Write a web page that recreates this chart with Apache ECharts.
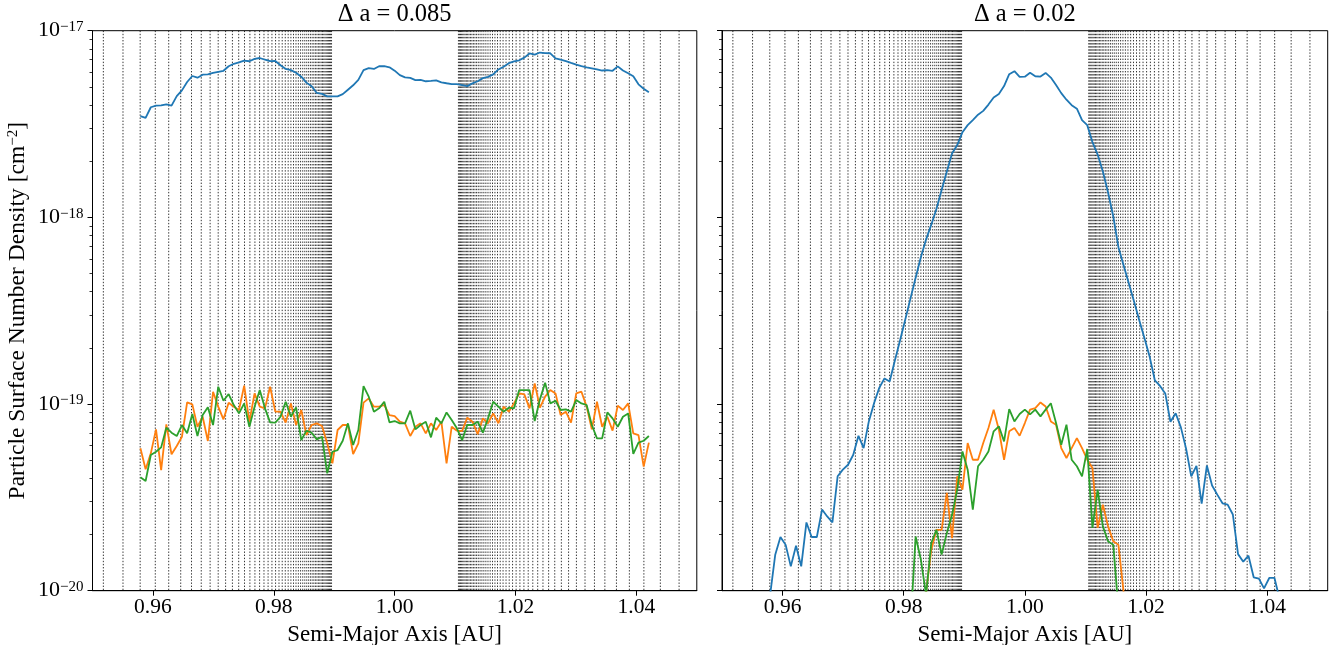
<!DOCTYPE html>
<html>
<head>
<meta charset="utf-8">
<script src="https://cdn.jsdelivr.net/npm/echarts@6/dist/echarts.min.js"></script>
<style>html,body{margin:0;padding:0;background:#fff}#chart{width:1336px;height:645px}</style>
</head>
<body>
<div id="chart"></div>
<script>
// ---- data ----
const semiMajorAxis = [
0.95793,0.95879,0.95965,0.96051,0.96136,0.96222,0.96308,0.96394,0.96480,0.96566,
0.96652,0.96737,0.96823,0.96909,0.96995,0.97081,0.97167,0.97253,0.97338,0.97424,
0.97510,0.97596,0.97682,0.97768,0.97854,0.97939,0.98025,0.98111,0.98197,0.98283,
0.98369,0.98455,0.98540,0.98626,0.98712,0.98798,0.98884,0.98970,0.99056,0.99141,
0.99227,0.99313,0.99399,0.99485,0.99571,0.99657,0.99742,0.99828,0.99914,1.00000,
1.00086,1.00172,1.00258,1.00343,1.00429,1.00515,1.00601,1.00687,1.00773,1.00859,
1.00944,1.01030,1.01116,1.01202,1.01288,1.01374,1.01460,1.01545,1.01631,1.01717,
1.01803,1.01889,1.01975,1.02061,1.02146,1.02232,1.02318,1.02404,1.02490,1.02576,
1.02662,1.02747,1.02833,1.02919,1.03005,1.03091,1.03177,1.03263,1.03348,1.03434,
1.03520,1.03606,1.03692,1.03778,1.03864,1.03949,1.04035,1.04121,1.04207];

// Panel 1: Δa = 0.085
const blue085 = [
3.49e-18,3.41e-18,3.89e-18,3.97e-18,3.98e-18,4.03e-18,3.97e-18,4.46e-18,4.79e-18,5.31e-18,
5.72e-18,5.60e-18,5.81e-18,5.83e-18,5.94e-18,6.02e-18,6.10e-18,6.45e-18,6.65e-18,6.76e-18,
6.91e-18,6.86e-18,7.06e-18,7.14e-18,6.99e-18,6.87e-18,6.88e-18,6.53e-18,6.24e-18,6.15e-18,
5.95e-18,5.67e-18,5.27e-18,5.04e-18,4.64e-18,4.59e-18,4.45e-18,4.45e-18,4.45e-18,4.57e-18,
4.83e-18,5.10e-18,5.45e-18,6.15e-18,6.30e-18,6.24e-18,6.45e-18,6.46e-18,6.37e-18,6.11e-18,
5.78e-18,5.62e-18,5.59e-18,5.44e-18,5.45e-18,5.36e-18,5.38e-18,5.42e-18,5.29e-18,5.23e-18,
5.18e-18,5.17e-18,5.11e-18,5.05e-18,5.22e-18,5.36e-18,5.57e-18,5.66e-18,5.83e-18,6.20e-18,
6.41e-18,6.70e-18,6.85e-18,6.94e-18,7.17e-18,7.55e-18,7.45e-18,7.64e-18,7.59e-18,7.57e-18,
7.11e-18,6.99e-18,6.87e-18,6.72e-18,6.58e-18,6.46e-18,6.37e-18,6.29e-18,6.21e-18,6.12e-18,
6.15e-18,6.10e-18,6.44e-18,6.12e-18,5.92e-18,5.70e-18,5.16e-18,4.89e-18,4.68e-18];
const orange085 = [
5.79e-20,4.47e-20,5.44e-20,7.32e-20,4.43e-20,7.78e-20,5.38e-20,5.96e-20,6.68e-20,1.020e-19,
9.96e-20,7.56e-20,8.55e-20,6.34e-20,1.164e-19,9.68e-20,8.28e-20,1.017e-19,9.68e-20,9.29e-20,
1.254e-19,8.04e-20,1.140e-19,9.68e-20,9.48e-20,1.238e-19,9.10e-20,9.10e-20,7.95e-20,1.008e-19,
7.72e-20,9.29e-20,6.82e-20,7.72e-20,7.88e-20,7.62e-20,6.16e-20,4.81e-20,7.26e-20,7.72e-20,
7.72e-20,5.40e-20,6.16e-20,1.017e-19,1.072e-19,9.68e-20,9.68e-20,9.88e-20,8.73e-20,8.62e-20,
8.04e-20,7.88e-20,6.74e-20,7.56e-20,7.88e-20,6.97e-20,7.88e-20,7.26e-20,8.04e-20,4.81e-20,
7.56e-20,7.20e-20,7.17e-20,8.45e-20,8.04e-20,6.90e-20,8.38e-20,7.88e-20,8.91e-20,7.88e-20,
9.68e-20,9.10e-20,1.008e-19,1.140e-19,1.127e-19,9.48e-20,1.290e-19,9.56e-20,1.095e-19,1.188e-19,
1.140e-19,8.73e-20,9.10e-20,7.95e-20,1.140e-19,1.164e-19,9.68e-20,7.32e-20,1.029e-19,7.56e-20,
8.55e-20,7.20e-20,9.80e-20,9.29e-20,1.008e-19,6.97e-20,6.82e-20,4.62e-20,6.21e-20];
const green085 = [
4.05e-20,3.87e-20,5.33e-20,5.55e-20,5.86e-20,7.47e-20,7.02e-20,6.74e-20,7.72e-20,6.97e-20,
8.84e-20,6.74e-20,8.73e-20,9.60e-20,7.72e-20,1.238e-19,1.042e-19,1.131e-19,9.88e-20,8.91e-20,
1.008e-19,7.56e-20,9.68e-20,1.188e-19,9.48e-20,7.98e-20,7.95e-20,8.55e-20,1.029e-19,8.55e-20,
9.60e-20,6.41e-20,7.20e-20,7.02e-20,6.47e-20,6.68e-20,4.25e-20,5.55e-20,5.67e-20,6.36e-20,
7.88e-20,6.03e-20,7.26e-20,1.248e-19,1.095e-19,9.10e-20,9.48e-20,1.029e-19,7.98e-20,8.11e-20,
7.88e-20,7.88e-20,9.21e-20,7.32e-20,7.72e-20,8.04e-20,6.63e-20,8.45e-20,7.88e-20,9.02e-20,
8.21e-20,7.41e-20,6.41e-20,7.72e-20,7.72e-20,8.04e-20,7.02e-20,8.38e-20,1.029e-19,9.68e-20,
9.10e-20,9.56e-20,9.48e-20,1.188e-19,1.188e-19,1.188e-19,8.11e-20,1.059e-19,1.300e-19,1.008e-19,
1.042e-19,9.29e-20,9.36e-20,9.10e-20,1.050e-19,1.008e-19,9.88e-20,7.72e-20,6.55e-20,6.55e-20,
9.02e-20,8.38e-20,7.56e-20,8.55e-20,8.91e-20,5.40e-20,6.21e-20,6.36e-20,6.74e-20];

// Panel 2: Δa = 0.02
const blue02 = [
9.4e-21,1.56e-20,1.94e-20,1.76e-20,1.35e-20,1.74e-20,1.35e-20,2.32e-20,1.94e-20,1.94e-20,
2.72e-20,2.50e-20,2.32e-20,4.10e-20,4.45e-20,4.73e-20,5.35e-20,6.76e-20,5.81e-20,8.07e-20,
1.01e-19,1.22e-19,1.37e-19,1.32e-19,1.71e-19,2.19e-19,2.83e-19,3.67e-19,4.75e-19,6.11e-19,
7.60e-19,9.14e-19,1.11e-18,1.40e-18,1.76e-18,2.20e-18,2.44e-18,2.86e-18,3.12e-18,3.32e-18,
3.55e-18,3.72e-18,4.02e-18,4.39e-18,4.58e-18,5.05e-18,5.85e-18,6.07e-18,5.66e-18,5.67e-18,
5.95e-18,5.70e-18,5.68e-18,5.94e-18,5.61e-18,5.12e-18,4.63e-18,4.27e-18,3.99e-18,3.82e-18,
3.32e-18,3.12e-18,2.53e-18,2.17e-18,1.76e-18,1.36e-18,1.01e-18,6.92e-19,5.53e-19,4.42e-19,
3.54e-19,2.81e-19,2.25e-19,1.79e-19,1.34e-19,1.25e-19,1.14e-19,8.03e-20,8.93e-20,7.50e-20,
5.77e-20,4.10e-20,4.66e-20,2.93e-20,4.68e-20,3.66e-20,3.27e-20,2.94e-20,2.89e-20,2.56e-20,
1.57e-20,1.43e-20,1.54e-20,1.18e-20,1.16e-20,1.03e-20,1.17e-20,1.17e-20,9.0e-21];
const orange02 = [
null,null,null,null,null,null,null,null,null,null,
null,null,null,null,null,null,null,null,null,null,
null,null,null,null,null,null,null,null,null,null,
9.8e-21,1.65e-20,2.12e-20,2.12e-20,3.34e-20,1.91e-20,4.10e-20,3.48e-20,6.18e-20,5.03e-20,
5.03e-20,6.18e-20,7.44e-20,9.33e-20,7.29e-20,5.03e-20,7.14e-20,7.44e-20,6.76e-20,7.91e-20,
9.33e-20,9.50e-20,1.02e-19,9.70e-20,8.07e-20,7.75e-20,5.81e-20,5.14e-20,5.81e-20,6.57e-20,
5.81e-20,5.03e-20,4.54e-20,2.17e-20,2.89e-20,2.21e-20,1.84e-20,1.76e-20,9.8e-21,null,
null,null,null,null,null,null,null,null,null,null,
null,null,null,null,null,null,null,null,null,null,
null,null,null,null,null,null,null,null,null];
const green02 = [
null,null,null,null,null,null,null,null,null,null,
null,null,null,null,null,null,null,null,null,null,
null,null,null,null,null,null,null,6.4e-21,1.95e-20,1.47e-20,
9.5e-21,1.80e-20,2.12e-20,1.56e-20,2.04e-20,2.55e-20,3.48e-20,5.57e-20,4.45e-20,2.72e-20,
4.64e-20,5.03e-20,5.57e-20,7.14e-20,7.60e-20,6.31e-20,9.40e-20,8.07e-20,8.84e-20,9.33e-20,
8.80e-20,9.33e-20,8.59e-20,9.33e-20,1.01e-19,7.91e-20,6.05e-20,7.75e-20,5.03e-20,4.64e-20,
4.10e-20,5.74e-20,2.17e-20,3.48e-20,2.21e-20,1.84e-20,1.76e-20,8.0e-21,null,null,
null,null,null,null,null,null,null,null,null,null,
null,null,null,null,null,null,null,null,null,null,
null,null,null,null,null,null,null,null,null];

const panelTitles = ['Δ a = 0.085', 'Δ a = 0.02'];
const xTickValues = [0.96, 0.98, 1.00, 1.02, 1.04];
const yMinorTickValues = [
2e-20,3e-20,4e-20,5e-20,6e-20,7e-20,8e-20,9e-20,
2e-19,3e-19,4e-19,5e-19,6e-19,7e-19,8e-19,9e-19,
2e-18,3e-18,4e-18,5e-18,6e-18,7e-18,8e-18,9e-18];
// first-order mean-motion resonances j:j+1 (interior) and j+1:j (exterior)
const resonanceOrders = [13,14,15,16,17,18,19,20,21,22,23,24,25,26,27,28,29,30,31,32,33,34,35,36,37,38,
39,40,41,42,43,44,45,46,47,48,49,50,51,52,53,54,55,56,57,58,59,60,61,62,63];

// ---- build chart ----
const FONT = '"Liberation Serif", "DejaVu Serif", serif';
const Y_MIN = 1e-20, Y_MAX = 1e-17, X_MIN = 0.95, X_MAX = 1.05;
const resonanceA = [];
resonanceOrders.forEach(function (j) {
  resonanceA.push([Math.pow(j / (j + 1), 2 / 3)]);   // period ratio -> semi-major axis (Kepler III)
  resonanceA.push([Math.pow((j + 1) / j, 2 / 3)]);
});
const resonanceInView = resonanceA.filter(function (d) { return d[0] > X_MIN && d[0] < X_MAX; });

const panels = [
  { blue: blue085, orange: orange085, green: green085 },
  { blue: blue02, orange: orange02, green: green02 }
];
const gridBase = { top: 30.7, height: 560, show: true, borderColor: '#000', borderWidth: 1,
  backgroundColor: 'transparent', containLabel: false, outerBoundsMode: 'none' };
const grids = [
  Object.assign({ left: 92.5, width: 604.3 }, gridBase),
  Object.assign({ left: 722, width: 605.7 }, gridBase)
];
const colors = { blue: '#1f77b4', orange: '#ff7f0e', green: '#2ca02c' };

const xAxes = [], yAxes = [], series = [];
panels.forEach(function (p, i) {
  xAxes.push({
    type: 'value', gridIndex: i, min: X_MIN, max: X_MAX,
    splitLine: { show: false },
    axisLine: { onZero: false, lineStyle: { color: '#000', width: 1 } },
    axisTick: { show: true, length: 5, customValues: xTickValues, lineStyle: { color: '#000', width: 1 } },
    axisLabel: { customValues: xTickValues, formatter: function (v) { return v.toFixed(2); },
      fontFamily: FONT, fontSize: 21.5, color: '#000', margin: 6 },
    name: 'Semi-Major Axis [AU]', nameLocation: 'middle', nameGap: 29,
    nameTextStyle: { fontFamily: FONT, fontSize: 23, color: '#000' }
  });
  yAxes.push({
    type: 'log', logBase: 10, gridIndex: i, min: Y_MIN, max: Y_MAX, position: 'left',
    splitLine: { show: false },
    axisLine: { show: true, onZero: false, lineStyle: { color: '#000', width: 1 } },
    axisTick: { show: true, length: 5, lineStyle: { color: '#000', width: 1 } },
    axisLabel: {
      show: i === 0, margin: 9, fontFamily: FONT, fontSize: 22, color: '#000',
      formatter: function (v) { return '10{sup|−' + Math.round(-Math.log10(v)) + '}'; },
      rich: { sup: { fontFamily: FONT, fontSize: 15, color: '#000', verticalAlign: 'top', lineHeight: 12 } }
    },
    name: i === 0 ? 'Particle Surface Number Density [cm{sup|−2}]' : '',
    nameLocation: 'middle', nameGap: 63,
    nameTextStyle: { fontFamily: FONT, fontSize: 23.5, color: '#000',
      rich: { sup: { fontFamily: FONT, fontSize: 15, color: '#000', verticalAlign: 'top', lineHeight: 11 } } }
  });
  yAxes.push({
    type: 'log', logBase: 10, gridIndex: i, min: Y_MIN, max: Y_MAX, position: 'left',
    splitLine: { show: false }, axisLine: { show: false },
    axisLabel: { show: false },
    axisTick: { show: true, length: 3, customValues: yMinorTickValues, lineStyle: { color: '#000', width: 0.8 } }
  });
  // resonance locations (dotted vertical lines)
  series.push({
    type: 'custom', xAxisIndex: i, yAxisIndex: 2 * i, silent: true, z: 1, animation: false, clip: true,
    encode: { x: 0 }, dimensions: ['a'],
    data: resonanceInView,
    renderItem: function (params, api) {
      const a = api.value(0);
      const top = api.coord([a, Y_MAX]);
      const bot = api.coord([a, Y_MIN]);
      return { type: 'line', shape: { x1: top[0], y1: top[1], x2: bot[0], y2: bot[1] },
        style: { stroke: '#000', lineWidth: 0.8, lineDash: [1.4, 1.7], fill: null } };
    }
  });
  ['blue', 'orange', 'green'].forEach(function (key, s) {
    const vals = p[key];
    series.push({
      type: 'line', xAxisIndex: i, yAxisIndex: 2 * i,
      data: semiMajorAxis.map(function (a, k) { return [a, vals[k] == null ? null : vals[k]]; }),
      showSymbol: false, symbol: 'none', clip: true, z: 3 + s,
      lineStyle: { color: colors[key], width: 1.8 },
      itemStyle: { color: colors[key] },
      emphasis: { disabled: true }, silent: true, animation: false
    });
  });
});

const chart = echarts.init(document.getElementById('chart'), null, { renderer: 'canvas' });
chart.setOption({
  backgroundColor: '#fff',
  animation: false,
  grid: grids,
  xAxis: xAxes,
  yAxis: yAxes,
  series: series,
  graphic: [
    { type: 'text', x: 394.6, y: 15, silent: true,
      style: { text: panelTitles[0], fontFamily: FONT, fontSize: 24.5, fill: '#000', align: 'center', verticalAlign: 'middle' } },
    { type: 'text', x: 1024.8, y: 15, silent: true,
      style: { text: panelTitles[1], fontFamily: FONT, fontSize: 24.5, fill: '#000', align: 'center', verticalAlign: 'middle' } }
  ]
});
</script>
</body>
</html>
